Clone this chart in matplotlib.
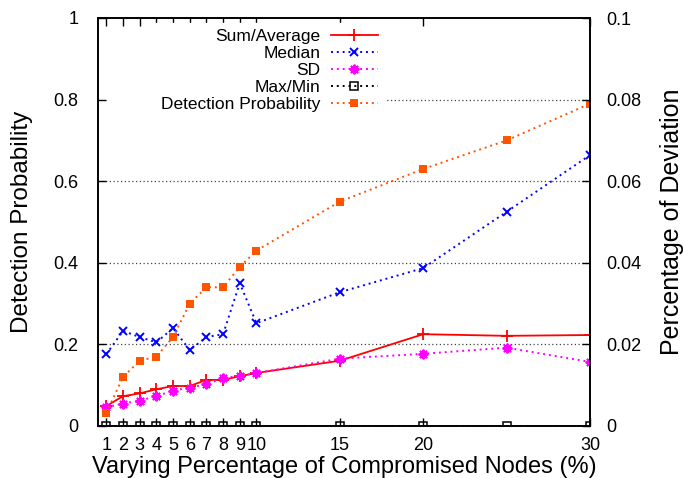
import matplotlib
matplotlib.use('Agg')
import matplotlib.pyplot as plt

plt.rcParams['font.family'] = ['Liberation Sans', 'DejaVu Sans']

# compromised nodes (%)
nodes = [1, 2, 3, 4, 5, 6, 7, 8, 9, 10, 15, 20, 25, 30]

sumAvg = [0.049, 0.073, 0.080, 0.090, 0.098, 0.098, 0.113, 0.113, 0.122, 0.130, 0.160, 0.225, 0.221, 0.223]
median = [0.176, 0.233, 0.218, 0.205, 0.240, 0.186, 0.218, 0.225, 0.350, 0.252, 0.328, 0.387, 0.525, 0.664]
sd = [0.046, 0.055, 0.062, 0.073, 0.087, 0.094, 0.102, 0.118, 0.122, 0.130, 0.165, 0.177, 0.192, 0.157]
maxMin = [0, 0, 0, 0, 0, 0, 0, 0, 0, 0, 0, 0, 0, 0]
detProb = [0.032, 0.120, 0.160, 0.170, 0.218, 0.300, 0.340, 0.340, 0.390, 0.430, 0.550, 0.630, 0.700, 0.790]

xticks = [1, 2, 3, 4, 5, 6, 7, 8, 9, 10, 15, 20, 30]
yticks = [0, 0.2, 0.4, 0.6, 0.8, 1]
ylabels = ['0', '0.2', '0.4', '0.6', '0.8', '1']
y2ticks = [0, 0.02, 0.04, 0.06, 0.08, 0.1]
y2labels = ['0', '0.02', '0.04', '0.06', '0.08', '0.1']

fig = plt.figure(figsize=(6.83, 4.78), dpi=100)
ax = fig.add_axes([98/683, 52/478, 492/683, 408/478])
ax2 = ax.twinx()

ax.plot(nodes, sumAvg, color='#ff0000', lw=1.3, marker='+', ms=8, mew=1.3, label='Sum/Average')
ax.plot(nodes, median, color='#0000ff', lw=1.4, ls=(0, (1, 2)), marker='x', ms=6, mew=1.4, label='Median')
ax.plot(nodes, sd, color='#ff00ff', lw=1.4, ls=(0, (1, 2)), marker=(8, 2, 0), ms=7, mew=1.4, label='SD')
ax.plot(nodes, maxMin, color='black', lw=1.4, ls=(0, (1, 2)), marker='s', ms=5.5, mew=1.1,
        mfc='none', label='Max/Min')
ax.plot(nodes, detProb, color='#ff5500', lw=1.4, ls=(0, (1, 2)), marker='s', ms=6, mew=0,
        label='Detection Probability')

ax.set_xlim(0.5, 30)
ax.set_ylim(0, 1)
ax2.set_ylim(0, 0.1)
# grid lines; the key hides the left part of the top one
for y in yticks[1:-1]:
    x0 = 0.58 if y > 0.7 else 0
    ax.axhline(y, xmin=x0, color='#444444', lw=0.9, ls=(0, (1, 2)), zorder=0)

ax.set_xticks(xticks)
ax.set_xticklabels([str(v) for v in xticks])
ax.set_yticks(yticks)
ax.set_yticklabels(ylabels)
ax2.set_yticks(y2ticks)
ax2.set_yticklabels(y2labels)

ax.tick_params(axis='x', direction='in', top=True, length=6, width=1, pad=8, labelsize=13)
ax.tick_params(axis='y', direction='in', length=6, width=1, pad=14, labelsize=13)
ax2.tick_params(axis='y', direction='in', length=6, width=1, pad=12, labelsize=13)
for a in (ax, ax2):
    for s in a.spines.values():
        s.set_linewidth(1.2)

ax.set_xlabel('Varying Percentage of Compromised Nodes (%)', fontsize=17)
ax.set_ylabel('Detection Probability', fontsize=17.5)
ax2.set_ylabel('Percentage of Deviation', fontsize=18)
ax.xaxis.set_label_coords(0.5, -0.074)
ax.yaxis.set_label_coords(-0.132, 0.5)
ax2.yaxis.set_label_coords(1.143, 0.5)

leg = ax.legend(loc='upper right', bbox_to_anchor=(0.581, 0.988), markerfirst=False,
                fontsize=12.5, frameon=True, framealpha=1, facecolor='white', edgecolor='white',
                fancybox=False, handlelength=2.7, handletextpad=0.6, labelspacing=0.1,
                borderpad=0.35, borderaxespad=0)
for col in leg._legend_handle_box.get_children():
    col.align = 'right'

fig.savefig('out.png', dpi=100)
